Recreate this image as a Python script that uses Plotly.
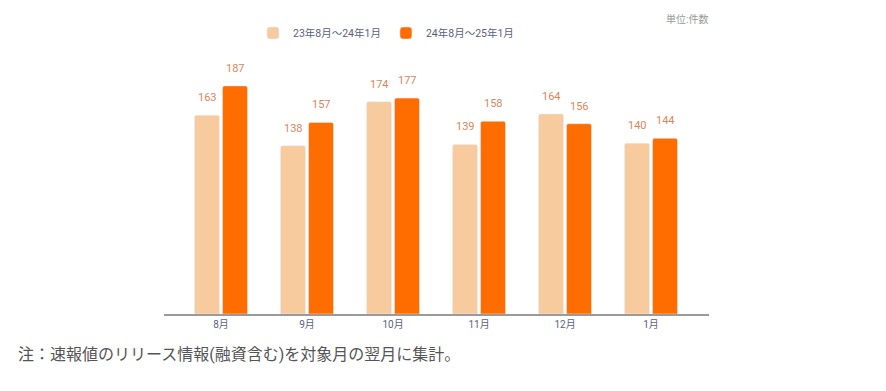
import plotly.graph_objects as go

months = ["8月", "9月", "10月", "11月", "12月", "1月"]
prev_name = "23年8月～24年1月"
curr_name = "24年8月～25年1月"
prev_vals = [163, 138, 174, 139, 164, 140]
curr_vals = [187, 157, 177, 158, 156, 144]

light = "#F8CB9E"
dark = "#FF6D00"
label_color = "#D8875C"
font_fam = "Roboto, 'Noto Sans CJK JP', sans-serif"

OFF = 8  # page body margin
W, H = 886 - 2 * OFF, 391 - 2 * OFF
plot_l, plot_r, plot_t, plot_b = 164 - OFF, 709 - OFF, 60 - OFF, 314 - OFF
px_per_unit = (314 - 85) / 187.0
ymax = (plot_b - plot_t) / px_per_unit
pw, ph = plot_r - plot_l, plot_b - plot_t

def py(page_y):
    return (plot_b - (page_y - OFF)) / ph

def px(page_x):
    return ((page_x - OFF) - plot_l) / pw

fig = go.Figure()
fig.add_bar(x=months, y=prev_vals, name=prev_name, marker=dict(color=light))
fig.add_bar(x=months, y=curr_vals, name=curr_name, marker=dict(color=dark))

for vals, sh in ((prev_vals, -14), (curr_vals, 14)):
    for m, v in zip(months, vals):
        fig.add_annotation(x=m, y=v, text=str(v), showarrow=False, xshift=sh,
                           yanchor="bottom", yshift=9,
                           font=dict(size=11, color=label_color, family=font_fam))

fig.update_layout(
    width=W, height=H,
    margin=dict(l=plot_l, r=W - plot_r, t=plot_t, b=H - plot_b),
    paper_bgcolor="white", plot_bgcolor="white",
    barmode="group", bargap=0.349, bargroupgap=0.107, barcornerradius=2,
    font=dict(family=font_fam, color="#5A5F80"),
    showlegend=True,
    legend=dict(orientation="h", x=px(253), xanchor="left", y=py(33), yanchor="middle",
                font=dict(size=10.5, color="#5A5F80"), traceorder="normal",
                itemwidth=30, bgcolor="rgba(0,0,0,0)"),
    xaxis=dict(range=[-0.663, 5.674], showgrid=False, showline=True, linecolor="#9A9A9A",
               linewidth=2, ticks="", tickfont=dict(size=10, color="#5A5F80"), zeroline=False),
    yaxis=dict(range=[0, ymax], visible=False, showgrid=False, zeroline=False),
)

fig.add_annotation(text="単位:件数", xref="paper", yref="paper", x=px(710), xanchor="right",
                   y=py(18), yanchor="middle",
                   showarrow=False, font=dict(size=10, color="#9A9A9A"))
fig.add_annotation(text="注：速報値のリリース情報(融資含む)を対象月の翌月に集計。", xref="paper", yref="paper",
                   x=px(16), xanchor="left", y=py(355), yanchor="middle",
                   showarrow=False, font=dict(size=16, color="#555555"))

fig.write_html("out.html")
